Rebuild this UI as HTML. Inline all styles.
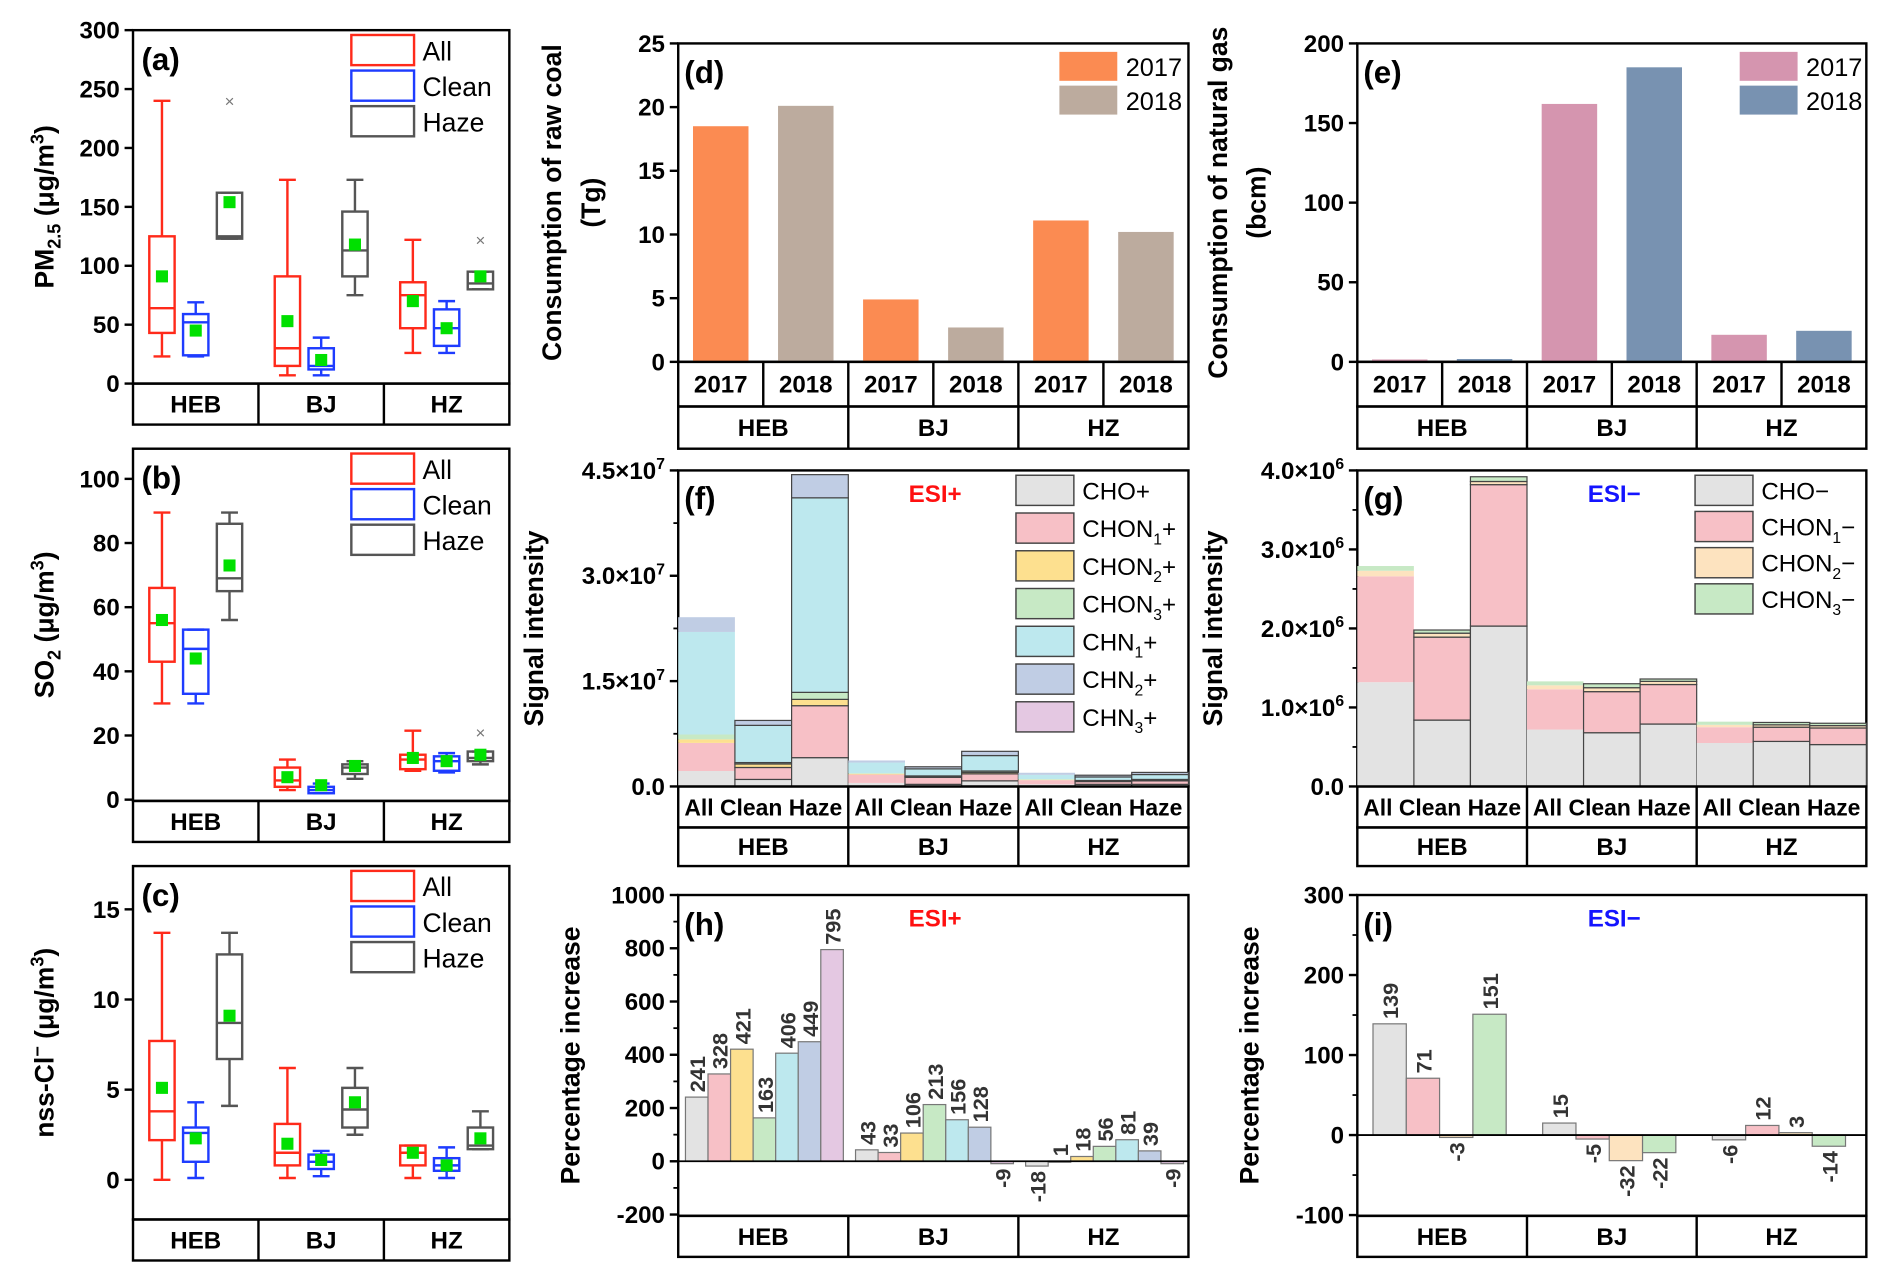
<!DOCTYPE html>
<html><head><meta charset="utf-8"><title>Panels</title>
<style>
html,body{margin:0;padding:0;background:#fff;}
svg{display:block;font-family:"Liberation Sans",Arial,sans-serif;}
</style></head>
<body>
<svg id="chart" width="1892" height="1281" viewBox="0 0 1568 1062" xmlns="http://www.w3.org/2000/svg"></svg>
<script>
// ---------- DATA ----------
const regions = ["HEB","BJ","HZ"];
const conditions = ["All","Clean","Haze"];
const years = ["2017","2018"];
// box stats: [min, q1, median, q3, max, mean] order HEB All/Clean/Haze, BJ ..., HZ ...
const pm25Stats = [[23,43,64,125,240,91],[23,24,52,59,69,45],[123,123,125,162,162,154],
  [7,15,30,91,173,53],[7,12,15,30,39,20],[75,91,113,146,173,118],
  [26,47,75,86,122,70],[26,32,47,63,70,47],[80,80,85,95,95,91]];
const pm25Outliers = [[2,240],[8,122]];
const so2Stats = [[30,43,55,66,89.5,56],[30,33,47,53,53,44],[56,65,69,86,89.5,73],
  [3,4,6,10,12.5,7],[2,2,3,4,5,4.5],[6.5,8,10,11,12,10.5],
  [9,9.5,12.5,14,21.5,13],[8.5,9,12,13.5,14.5,12],[11,12,13,15,15,14]];
const so2Outliers = [[8,21]];
const clStats = [[0,2.2,3.8,7.7,13.7,5.1],[0.1,1,2.6,2.9,4.3,2.3],[4.1,6.7,8.7,12.5,13.7,9.1],
  [0.1,0.8,1.5,3.1,6.2,2.0],[0.2,0.6,1,1.4,1.6,1.1],[2.5,2.9,3.9,5.1,6.2,4.3],
  [0.1,0.8,1.5,1.9,1.9,1.5],[0.1,0.5,0.8,1.2,1.8,0.8],[1.7,1.7,1.9,2.9,3.8,2.3]];
const coal2017 = [18.5,4.9,11.1];
const coal2018 = [20.1,2.7,10.2];
const gas2017 = [1.5,162,17];
const gas2018 = [1.8,185,19.5];
const posSpecies = ["CHO+","CHON1+","CHON2+","CHON3+","CHN1+","CHN2+","CHN3+"];
// units of 1e7; rows = HEB All, Clean, Haze, BJ..., HZ...
const posIntensity = [[0.22,0.40,0.05,0.07,1.46,0.21,0],[0.10,0.17,0.05,0.02,0.53,0.07,0],[0.41,0.74,0.09,0.10,2.77,0.33,0],
  [0.05,0.12,0.01,0.01,0.15,0.03,0],[0.03,0.10,0.01,0.01,0.10,0.03,0],[0.08,0.10,0.02,0.02,0.22,0.06,0],
  [0.03,0.06,0.005,0.01,0.06,0.03,0],[0.03,0.04,0.005,0.01,0.05,0.025,0],[0.03,0.05,0.01,0.01,0.07,0.03,0]];
const negSpecies = ["CHO−","CHON1−","CHON2−","CHON3−"];
// units of 1e6
const negIntensity = [[1.32,1.34,0.07,0.06],[0.84,1.05,0.05,0.04],[2.03,1.79,0.04,0.06],
  [0.72,0.51,0.05,0.05],[0.68,0.52,0.05,0.05],[0.79,0.50,0.04,0.03],
  [0.55,0.20,0.03,0.04],[0.57,0.18,0.03,0.03],[0.53,0.21,0.03,0.03]];
const posIncrease = [[241,328,421,163,406,449,795],[43,33,106,213,156,128,-9],[-18,1,18,56,81,39,-9]];
const negIncrease = [[139,71,-3,151],[15,-5,-32,-22],[-6,12,3,-14]];
const posColors = ["#e3e3e3","#f7c0c6","#fde08f","#c7e9c5","#bde8ee","#c0cde4","#e4c8e2"];
const negColors = ["#e3e3e3","#f7c0c6","#fde3bf","#c7e9c5"];

// ---------- HELPERS ----------
const NS = "http://www.w3.org/2000/svg";
const svg = document.getElementById("chart");
function mk(tag, a, p){ const e=document.createElementNS(NS,tag); for(const k in a) e.setAttribute(k,a[k]); (p||svg).appendChild(e); return e; }
function T(x,y,s,a,p){ const e=mk("text",Object.assign({x:x,y:y},a),p); e.innerHTML=s; return e; }
function scale(P){ return v => P.yb - (v-P.vmin)/(P.vmax-P.vmin)*(P.yb-P.yt); }

function frame(P, name){
  const g = mk("g",{});
  
  
  const r = mk("rect",{x:P.x0,y:P.yt,width:P.x1-P.x0,height:P.yb-P.yt,fill:"none",stroke:"#000","stroke-width":2},g);
  
  
  return g;
}
function yAxis(P, g, ticks, labels, minors){
  const y = scale(P);
  const ax = mk("g",{},g);
  
  
  ticks.forEach((t,i)=>{
    mk("line",{x1:P.x0-7,x2:P.x0,y1:y(t),y2:y(t),stroke:"#000","stroke-width":2},ax);
    const lb = T(P.x0-11,y(t)+7,labels[i],{"text-anchor":"end","font-size":20,"font-weight":"bold"},ax);
    
    
  });
  (minors||[]).forEach(t=>{ mk("line",{x1:P.x0-4,x2:P.x0,y1:y(t),y2:y(t),stroke:"#000","stroke-width":1.5},ax); });
}
function yTitle(x, cy, html, g){
  const t = T(x,cy,html,{"text-anchor":"middle","font-size":22,"font-weight":"bold",transform:"rotate(-90 "+x+" "+cy+")"},g);
  
  
}
function panelLabel(x,y,s,g){
  const t = T(x,y,s,{"font-size":26,"font-weight":"bold"},g);
  
  
}
function catRow(P, top, h, labels, g, fs){
  const n = labels.length, w=(P.x1-P.x0)/n;
  mk("rect",{x:P.x0,y:top,width:P.x1-P.x0,height:h,fill:"none",stroke:"#000","stroke-width":2},g);
  labels.forEach((s,i)=>{
    if(i>0) mk("line",{x1:P.x0+i*w,x2:P.x0+i*w,y1:top,y2:top+h,stroke:"#000","stroke-width":2},g);
    const t = T(P.x0+(i+0.5)*w, top+h/2+7, s, {"text-anchor":"middle","font-size":fs||20,"font-weight":"bold"},g);
    
    
  });
}
function esi(x,y,s,color,g){
  const t = T(x,y,s,{"text-anchor":"middle","font-size":20,"font-weight":"bold",fill:color},g);
  
  
}

// ---------- BOX PANELS ----------
const boxColors = ["#ff2a1a","#1e3cff","#555555"];
function boxPanel(P, stats, outliers, name, letter, title, ticks, labels, legendTop){
  const g = frame(P, name);
  const y = scale(P);
  yAxis(P, g, ticks, labels);
  yTitle(44, (P.yt+P.yb)/2, title, g);
  panelLabel(P.x0+7, P.yt+33, letter, g);
  const gw = (P.x1-P.x0)/3;
  stats.forEach((s,i)=>{
    const r = Math.floor(i/3), c = i%3;
    const cx = P.x0 + (r+0.5)*gw + (c-1)*28;
    const col = boxColors[c], bw = 21;
    const bg = mk("g",{},g);
    
    
    mk("line",{x1:cx,x2:cx,y1:y(s[4]),y2:y(s[3]),stroke:col,"stroke-width":2},bg);
    mk("line",{x1:cx,x2:cx,y1:y(s[1]),y2:y(s[0]),stroke:col,"stroke-width":2},bg);
    mk("line",{x1:cx-7,x2:cx+7,y1:y(s[4]),y2:y(s[4]),stroke:col,"stroke-width":2},bg);
    mk("line",{x1:cx-7,x2:cx+7,y1:y(s[0]),y2:y(s[0]),stroke:col,"stroke-width":2},bg);
    mk("rect",{x:cx-bw/2,y:y(s[3]),width:bw,height:Math.max(1,y(s[1])-y(s[3])),fill:"none",stroke:col,"stroke-width":2},bg);
    mk("line",{x1:cx-bw/2,x2:cx+bw/2,y1:y(s[2]),y2:y(s[2]),stroke:col,"stroke-width":2},bg);
    mk("rect",{x:cx-5,y:y(s[5])-5,width:10,height:10,fill:"#00e000"},bg);
  });
  (outliers||[]).forEach(o=>{
    const r=Math.floor(o[0]/3), c=o[0]%3;
    const cx = P.x0 + (r+0.5)*gw + (c-1)*28;
    const t = T(cx, y(o[1])+5, "×", {"text-anchor":"middle","font-size":14,fill:"#777"}, g);
    
    
  });
  catRow(P, P.yb, 34, regions, g);
  const lg = mk("g",{},g);
  
  
  conditions.forEach((s,i)=>{
    const yy = legendTop + i*29.5;
    mk("rect",{x:291,y:yy,width:52,height:25,fill:"none",stroke:boxColors[i],"stroke-width":2},lg);
    const t = T(350, yy+21, s, {"font-size":22}, lg);
    
    
  });
}
boxPanel({x0:110,x1:422,yt:25,yb:318,vmin:0,vmax:300}, pm25Stats, pm25Outliers, "panel-a-pm25", "(a)",
  "PM<tspan font-size='15' dy='6'>2.5</tspan><tspan dy='-6'> (μg/m</tspan><tspan font-size='15' dy='-8'>3</tspan><tspan dy='8'>)</tspan>",
  [0,50,100,150,200,250,300], ["0","50","100","150","200","250","300"], 29);
boxPanel({x0:110,x1:422,yt:372,yb:664,vmin:-0.4,vmax:109.4}, so2Stats, so2Outliers, "panel-b-so2", "(b)",
  "SO<tspan font-size='15' dy='6'>2</tspan><tspan dy='-6'> (μg/m</tspan><tspan font-size='15' dy='-8'>3</tspan><tspan dy='8'>)</tspan>",
  [0,20,40,60,80,100], ["0","20","40","60","80","100"], 376);
boxPanel({x0:110,x1:422,yt:718,yb:1011,vmin:-2.2,vmax:17.4}, clStats, [], "panel-c-nss-cl", "(c)",
  "nss-Cl<tspan font-size='15' dy='-8'>−</tspan><tspan dy='8'> (μg/m</tspan><tspan font-size='15' dy='-8'>3</tspan><tspan dy='8'>)</tspan>",
  [0,5,10,15], ["0","5","10","15"], 722);

// ---------- YEAR BAR PANELS ----------
function yearPanel(P, a, b, cols, name, letter, t1, t2, tx, ticks, labels, legX){
  const g = frame(P, name);
  const y = scale(P);
  yAxis(P, g, ticks, labels);
  yTitle(tx, (P.yt+P.yb)/2, t1, g);
  yTitle(tx+32, (P.yt+P.yb)/2, t2, g);
  const sw = (P.x1-P.x0)/6;
  [a,b].forEach((arr,k)=>{
    arr.forEach((v,r)=>{
      const cx = P.x0 + (2*r+k+0.5)*sw;
      const rc = mk("rect",{x:cx-23,y:y(v),width:46,height:y(0)-y(v),fill:cols[k]},g);
      
      
    });
  });
  panelLabel(P.x0+5, P.yt+33, letter, g);
  catRow(P, P.yb, 37, ["2017","2018","2017","2018","2017","2018"], g);
  catRow(P, P.yb+37, 35, regions, g);
  const lg = mk("g",{},g);
  
  
  years.forEach((s,i)=>{
    mk("rect",{x:legX,y:P.yt+7+i*28,width:48,height:24,fill:cols[i]},lg);
    const t = T(legX+55, P.yt+27+i*28, s, {"font-size":21}, lg);
    
    
  });
}
yearPanel({x0:562,x1:985,yt:36,yb:300,vmin:0,vmax:25}, coal2017, coal2018, ["#fb8b52","#bcab9e"], "panel-d-coal", "(d)",
  "Consumption of raw coal","(Tg)", 465, [0,5,10,15,20,25], ["0","5","10","15","20","25"], 878);
yearPanel({x0:1125,x1:1547,yt:36,yb:300,vmin:0,vmax:200}, gas2017, gas2018, ["#d595af","#7892b1"], "panel-e-gas", "(e)",
  "Consumption of natural gas","(bcm)", 1017, [0,50,100,150,200], ["0","50","100","150","200"], 1442);

// ---------- STACKED PANELS ----------
function stackPanel(P, data, species, cols, name, letter, ticks, labels, minors, esiTxt, esiCol, legX, legStep){
  const g = frame(P, name);
  const y = scale(P);
  yAxis(P, g, ticks, labels, minors);
  yTitle(P.x0-112, (P.yt+P.yb)/2, "Signal intensity", g);
  const sw = (P.x1-P.x0)/9;
  data.forEach((row,i)=>{
    let acc = 0;
    const x = P.x0 + i*sw;
    const out = (i%3)!==0;
    row.forEach((v,k)=>{
      if(v<=0) return;
      const rc = mk("rect",{x:x,y:y(acc+v),width:sw,height:y(acc)-y(acc+v),fill:cols[k],stroke:out?"#444":"none","stroke-width":out?1:0},g);
      
      
      acc += v;
    });
  });
  panelLabel(P.x0+5, P.yt+32, letter, g);
  esi(P.x0+213, P.yt+26, esiTxt, esiCol, g);
  catRow(P, P.yb, 34, ["All Clean Haze","All Clean Haze","All Clean Haze"], g, 19);
  catRow(P, P.yb+34, 32, regions, g);
  const lg = mk("g",{},g);
  
  
  species.forEach((s,i)=>{
    const yy = P.yt+4+i*legStep;
    mk("rect",{x:legX,y:yy,width:48,height:25,fill:cols[i],stroke:"#444","stroke-width":1.2},lg);
    const m = s.match(/^(CH[ON]*?)(\d)?([+−])$/) ;
    let html = s;
    if(m && m[2]) html = m[1]+"<tspan font-size='13' dy='6'>"+m[2]+"</tspan><tspan dy='-6'>"+m[3]+"</tspan>";
    const t = T(legX+55, yy+20, html, {"font-size":20}, lg);
    
    
  });
}
stackPanel({x0:562,x1:985,yt:390,yb:652,vmin:0,vmax:4.5}, posIntensity, posSpecies, posColors, "panel-f-esi-pos", "(f)",
  [0,1.5,3,4.5], ["0.0","1.5×10<tspan font-size='13' dy='-8'>7</tspan>","3.0×10<tspan font-size='13' dy='-8'>7</tspan>","4.5×10<tspan font-size='13' dy='-8'>7</tspan>"],
  [0.75,2.25,3.75], "ESI+", "#ff1010", 842, 31.3);
stackPanel({x0:1125,x1:1547,yt:390,yb:652,vmin:0,vmax:4}, negIntensity, negSpecies, negColors, "panel-g-esi-neg", "(g)",
  [0,1,2,3,4], ["0.0","1.0×10<tspan font-size='13' dy='-8'>6</tspan>","2.0×10<tspan font-size='13' dy='-8'>6</tspan>","3.0×10<tspan font-size='13' dy='-8'>6</tspan>","4.0×10<tspan font-size='13' dy='-8'>6</tspan>"],
  [0.5,1.5,2.5,3.5], "ESI−", "#1414ff", 1405, 30);

// ---------- PERCENT PANELS ----------
function pctPanel(P, data, cols, name, letter, ticks, labels, minors, esiTxt, esiCol, bw, lead){
  const g = frame(P, name);
  const y = scale(P);
  yAxis(P, g, ticks, labels, minors);
  yTitle(P.x0-82, (P.yt+P.yb)/2, "Percentage increase", g);
  const gw = (P.x1-P.x0)/3;
  data.forEach((row,r)=>{
    row.forEach((v,k)=>{
      const cx = P.x0 + r*gw + lead + (k+0.5)*bw;
      const top = Math.min(y(v),y(0)), h = Math.abs(y(v)-y(0));
      const rc = mk("rect",{x:cx-bw/2,y:top,width:bw,height:Math.max(h,1),fill:cols[k],stroke:"#777","stroke-width":1},g);
      
      
      const ly = v>=0 ? y(v)-4 : y(v)+4;
      const t = T(cx+7, ly, String(v), {"font-size":18,"font-weight":"bold",fill:"#333","text-anchor":v>=0?"start":"end",transform:"rotate(-90 "+(cx+7)+" "+ly+")"}, g);
      
      
    });
  });
  mk("line",{x1:P.x0,x2:P.x1,y1:y(0),y2:y(0),stroke:"#000","stroke-width":1.5},g);
  panelLabel(P.x0+5, P.yt+33, letter, g);
  esi(P.x0+213, P.yt+26, esiTxt, esiCol, g);
  catRow(P, P.yb, 34, regions, g);
}
pctPanel({x0:562,x1:985,yt:742,yb:1008,vmin:-205,vmax:1000}, posIncrease, posColors, "panel-h-increase-pos", "(h)",
  [-200,0,200,400,600,800,1000], ["-200","0","200","400","600","800","1000"], [-100,100,300,500,700,900], "ESI+", "#ff1010", 18.7, 6);
pctPanel({x0:1125,x1:1547,yt:742,yb:1008,vmin:-101,vmax:300}, negIncrease, negColors, "panel-i-increase-neg", "(i)",
  [-100,0,100,200,300], ["-100","0","100","200","300"], [-50,50,150,250], "ESI−", "#1414ff", 27.6, 13);
</script>
</body></html>
